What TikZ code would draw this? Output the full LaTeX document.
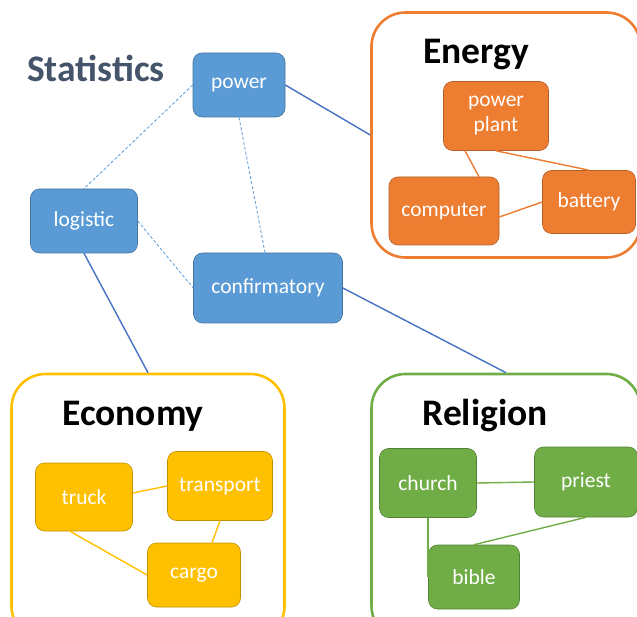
\documentclass[tikz,border=0pt]{standalone}
\usepackage{fontspec}
\setmainfont{Carlito}
\usepackage{tikz}
\usetikzlibrary{positioning}

\definecolor{statblue}{HTML}{5B9BD5}
\definecolor{linkblue}{HTML}{4472C4}
\definecolor{energyorange}{HTML}{ED7D31}
\definecolor{economyyellow}{HTML}{FFC000}
\definecolor{religiongreen}{HTML}{70AD47}
\definecolor{titlegray}{HTML}{44546A}

\tikzset{
  item/.style={rectangle, rounded corners=9pt, draw=#1!75!black, line width=0.6pt,
    fill=#1, text=white, align=center, inner sep=0pt,
    font=\fontsize{21.5}{25}\selectfont},
  boxsize/.style 2 args={minimum width=#1, minimum height=#2},
  group/.style={rectangle, rounded corners=34pt, draw=#1, line width=2.6pt, inner sep=0pt},
  grouptitle/.style={font=\fontsize{37.5}{42}\selectfont\bfseries},
  inlink/.style={draw=#1, line width=1.4pt},
  crosslink/.style={draw=linkblue, line width=1.4pt},
  weaklink/.style={draw=statblue, line width=0.8pt, dash pattern=on 3pt off 2pt},
}

\begin{document}
\begin{tikzpicture}[x=1pt, y=-1pt]

  \useasboundingbox (0,0) rectangle (637,617);
  \clip (0,0) rectangle (637,617);

  % statistics
  \node[text=titlegray, font=\fontsize{37.5}{42}\selectfont\bfseries] (stats) at (96,68) {Statistics};
  \node[item=statblue, boxsize={92pt}{64pt}]  (power)        at (239,85)  {power};
  \node[item=statblue, boxsize={107pt}{64pt}] (logistic)     at (84,221)  {logistic};
  \node[item=statblue, boxsize={149pt}{70pt}] (confirmatory) at (268,288) {confirmatory};

  % energy
  \node[group=energyorange, boxsize={269pt}{245pt}] (energy) at (506,135) {};
  \node[grouptitle] (energytitle) at (476,55) {Energy};
  \node[item=energyorange, boxsize={105pt}{69pt}] (plant)    at (496,116) {power\\plant};
  \node[item=energyorange, boxsize={110pt}{68pt}] (computer) at (444,211) {computer};
  \node[item=energyorange, boxsize={93pt}{63pt}]  (battery)  at (589,202) {battery};

  % economy
  \node[group=economyyellow, boxsize={273pt}{266pt}] (economy) at (148,507) {};
  \node[grouptitle] (economytitle) at (133,416) {Economy};
  \node[item=economyyellow, boxsize={97pt}{68pt}]  (truck)     at (84,497)  {truck};
  \node[item=economyyellow, boxsize={105pt}{69pt}] (transport) at (220,486) {transport};
  \node[item=economyyellow, boxsize={93pt}{64pt}]  (cargo)     at (194,575) {cargo};

  % religion
  \node[group=religiongreen, boxsize={269pt}{266pt}] (religion) at (506,507) {};
  \node[grouptitle] (religiontitle) at (485,416) {Religion};
  \node[item=religiongreen, boxsize={97pt}{69pt}]  (church) at (428,483) {church};
  \node[item=religiongreen, boxsize={103pt}{70pt}] (priest) at (586,482) {priest};
  \node[item=religiongreen, boxsize={91pt}{64pt}]  (bible)  at (474,577) {bible};

  % links
  \draw[weaklink] (power.west) -- (logistic.north);
  \draw[weaklink] (power.south) -- ([xshift=-3pt]confirmatory.north);
  \draw[weaklink] (logistic.east) -- (confirmatory.west);

  \draw[crosslink] (power.east) -- (energy.west);
  \draw[crosslink] (logistic.south) -- (economy.north);
  \draw[crosslink] (confirmatory.east) -- (religion.north);

  \draw[inlink=energyorange] ([xshift=-31pt]plant.south) -- ([xshift=35pt]computer.north);
  \draw[inlink=energyorange] (plant.south) -- (battery.north);
  \draw[inlink=energyorange] ([yshift=-6pt]computer.east) -- (battery.west);

  \draw[inlink=economyyellow] ([yshift=4pt]truck.east) -- (transport.west);
  \draw[inlink=economyyellow] ([xshift=-14pt]truck.south) -- (cargo.west);
  \draw[inlink=economyyellow] (transport.south) -- ([xshift=18pt]cargo.north);

  \draw[inlink=religiongreen] (church.east) -- (priest.west);
  \draw[inlink=religiongreen] (church.south) -- (church.south |- bible.west);
  \draw[inlink=religiongreen] (priest.south) -- (bible.north);

\end{tikzpicture}
\end{document}
